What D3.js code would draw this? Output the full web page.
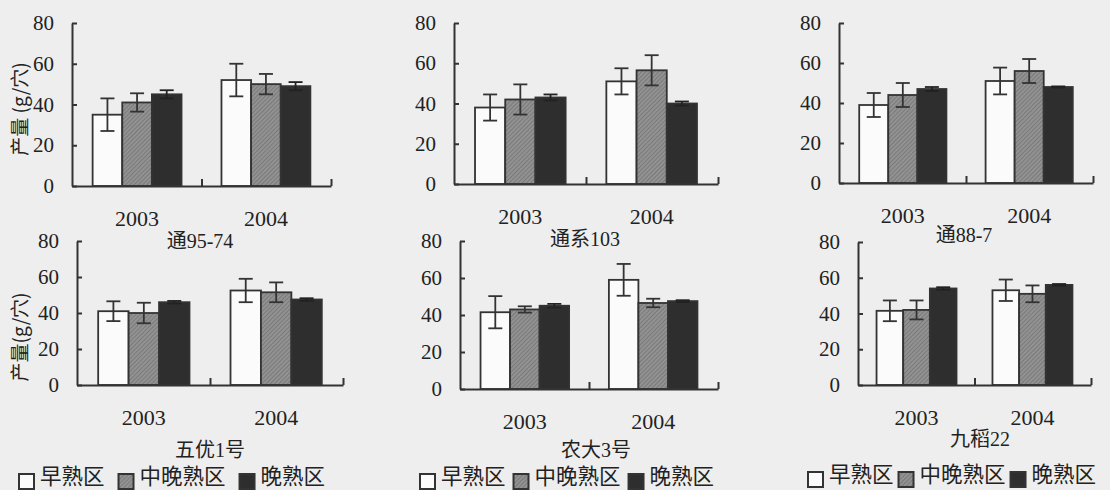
<!DOCTYPE html>
<html><head><meta charset="utf-8">
<script src="https://cdn.jsdelivr.net/npm/d3@7"></script>
<style>
body{margin:0;background:#eeeeee;}
svg{display:block;}
</style></head>
<body>
<svg id="chart" width="1110" height="490"></svg>
<script>
// ---- data ----
const panels = ["通95-74","通系103","通88-7","五优1号","农大3号","九稻22"];
const years = ["2003","2004"];
const series = ["早熟区","中晚熟区","晚熟区"];
const yTicks = [0,20,40,60,80];
const yLabels = ["产量 (g/穴)", null, null, "产量(g/穴)", null, null];

// values [panel][year]
const early    = [[35,52],[38,51],[39,51],[41,52.5],[41.5,59],[41.5,53]];
const earlyErr = [[8,8],[6.5,6.5],[6,6.7],[5.5,6.5],[8.7,8.6],[5.8,6]];
const mid      = [[41,50],[42,56.5],[44,56],[40,51.5],[43,46.5],[42,51]];
const midErr   = [[4.5,5],[7.5,7.5],[6,6],[5.7,5.5],[1.7,2.3],[5.3,4.7]];
const late     = [[45,49],[43,40],[47,48],[46,47.5],[45,47.5],[54,56]];
const lateErr  = [[2,2],[1.5,1],[1,0.3],[0.7,0.7],[1,0.5],[0.7,0.5]];

const values = [early, mid, late];
const errors = [earlyErr, midErr, lateErr];

// ---- layout ----
const layout = [
  {x0:72, x1:331, yTop:23, y0:186, title:[200,248], ylab:[20,109]},
  {x0:454,x1:718, yTop:23, y0:184, title:[585,246]},
  {x0:839,x1:1093,yTop:23, y0:183, title:[964,242]},
  {x0:77, x1:343, yTop:241,y0:385, title:[210,457], ylab:[20,337], legend:{x:19,y:478,gap:14}},
  {x0:460,x1:718, yTop:241,y0:389, title:[596,457], legend:{x:420,y:478,gap:8}},
  {x0:858,x1:1091,yTop:242,y0:385, title:[980,446], legend:{x:808,y:476,gap:5}}
];

const svg = d3.select("#chart");
svg.append("rect").attr("width",1110).attr("height",490).attr("fill","#eeeeee");

const defs = svg.append("defs");
const pat = defs.append("pattern").attr("id","hatch").attr("patternUnits","userSpaceOnUse")
  .attr("width",3).attr("height",3).attr("patternTransform","rotate(45)");
pat.append("rect").attr("width",3).attr("height",3).attr("fill","#929292");
pat.append("line").attr("x1",0).attr("y1",0).attr("x2",0).attr("y2",3)
  .attr("stroke","#6a6a6a").attr("stroke-width",1.2);

const fills = ["#fbfbfb","url(#hatch)","#2e2e2e"];
const numFont = "'Liberation Serif','DejaVu Serif',serif";
const cjkFont = "'Liberation Serif','Noto Sans CJK SC',serif";
const cjkOnly = "'Noto Sans CJK SC',sans-serif";
const ink = "#333";

panels.forEach((name,p)=>{
  const L = layout[p];
  const g = svg.append("g");
  const y = d3.scaleLinear().domain([0,80]).range([L.y0,L.yTop]);
  const xg = d3.scaleBand().domain(years).range([L.x0,L.x1]).paddingInner(0.31).paddingOuter(0.16);
  const xs = d3.scaleBand().domain(series).range([0,xg.bandwidth()]);

  years.forEach((yr,i)=>{
    series.forEach((s,k)=>{
      const v = values[k][p][i];
      const bx = xg(yr)+xs(s), bw = xs.bandwidth();
      g.append("rect").attr("x",bx).attr("y",y(v)).attr("width",bw).attr("height",y(0)-y(v))
        .attr("fill",fills[k]).attr("stroke",ink).attr("stroke-width",1.8);
    });
    series.forEach((s,k)=>{
      const v = values[k][p][i], e = errors[k][p][i];
      const cx = xg(yr)+xs(s)+xs.bandwidth()/2;
      const eg = g.append("g").attr("stroke", k===2 ? "#222" : ink).attr("stroke-width",1.8);
      eg.append("line").attr("x1",cx).attr("x2",cx).attr("y1",y(v+e)).attr("y2",y(v-e));
      eg.append("line").attr("x1",cx-7).attr("x2",cx+7).attr("y1",y(v+e)).attr("y2",y(v+e));
      eg.append("line").attr("x1",cx-7).attr("x2",cx+7).attr("y1",y(v-e)).attr("y2",y(v-e));
    });
  });

  // y axis
  const ya = g.append("g").attr("transform",`translate(${L.x0},0)`)
    .call(d3.axisLeft(y).tickValues(yTicks).tickSizeInner(-5).tickSizeOuter(0).tickPadding(18));
  ya.select(".domain").attr("stroke",ink).attr("stroke-width",2);
  ya.selectAll(".tick line").attr("stroke",ink).attr("stroke-width",2);
  ya.selectAll(".tick text").attr("font-family",numFont).attr("font-size",21).attr("fill","#222");

  // x axis (category boundary ticks pointing up)
  const xb = d3.scaleLinear().domain([0,2]).range([L.x0,L.x1]);
  const xa = g.append("g").attr("transform",`translate(0,${L.y0})`)
    .call(d3.axisBottom(xb).tickValues([1,2]).tickSizeInner(-7).tickSizeOuter(0).tickFormat(""));
  xa.select(".domain").attr("stroke",ink).attr("stroke-width",2);
  xa.selectAll(".tick line").attr("stroke",ink).attr("stroke-width",2);

  // year labels
  g.selectAll(".yr").data(years).enter().append("text")
    .attr("x",d=>xg(d)+xg.bandwidth()/2).attr("y",L.y0+40)
    .attr("text-anchor","middle").attr("font-family",numFont).attr("font-size",22).attr("fill","#222")
    .text(d=>d);

  // title
  g.append("text").attr("x",L.title[0]).attr("y",L.title[1]).attr("text-anchor","middle")
    .attr("font-family",cjkFont).attr("font-size",20).attr("fill","#222").text(name);

  // y label
  if (yLabels[p]) {
    g.append("text").attr("transform",`translate(${L.ylab[0]+7},${L.ylab[1]}) rotate(-90)`)
      .attr("text-anchor","middle").attr("font-family",cjkOnly).attr("font-size",19).attr("fill","#222")
      .text(yLabels[p]);
  }

  // legend
  if (L.legend) {
    let lx = L.legend.x;
    series.forEach((s,k)=>{
      g.append("rect").attr("x",lx).attr("y",L.legend.y-4).attr("width",15).attr("height",15)
        .attr("fill",fills[k]).attr("stroke",ink).attr("stroke-width",2);
      const t = g.append("text").attr("x",lx+21).attr("y",L.legend.y+6)
        .attr("font-family",cjkOnly).attr("font-size",21.5).attr("fill","#222").text(s);
      lx = lx + 21 + t.node().getComputedTextLength() + L.legend.gap;
    });
  }
});
</script>
</body></html>
